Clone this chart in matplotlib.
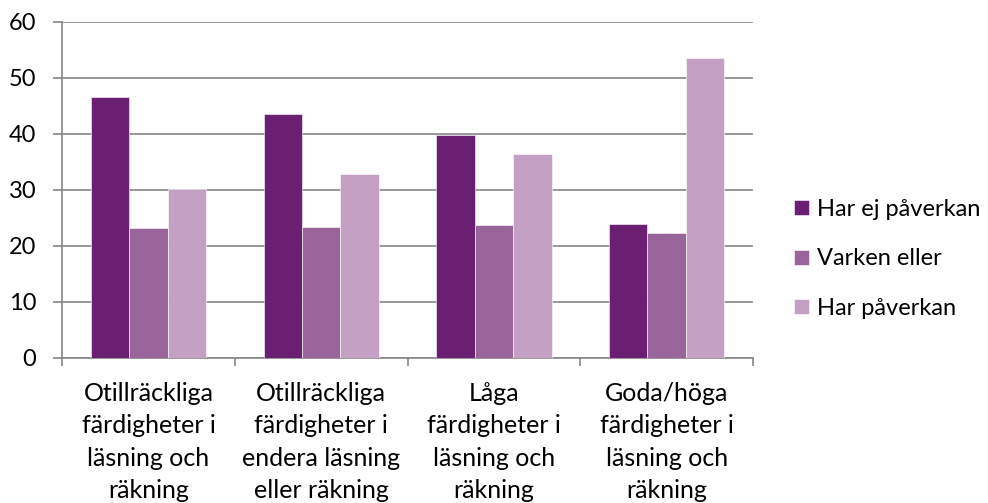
import matplotlib
import matplotlib.pyplot as plt
import numpy as np

matplotlib.use("Agg")
plt.rcParams["font.family"] = ["Lato", "DejaVu Sans"]

categories = [
    "Otillräckliga\nfärdigheter i\nläsning och\nräkning",
    "Otillräckliga\nfärdigheter i\nendera läsning\neller räkning",
    "Låga\nfärdigheter i\nläsning och\nräkning",
    "Goda/höga\nfärdigheter i\nläsning och\nräkning",
]
series_names = ["Har ej påverkan", "Varken eller", "Har påverkan"]
har_ej = [46.6, 43.6, 39.8, 23.9]
varken = [23.2, 23.4, 23.8, 22.4]
har = [30.2, 32.9, 36.4, 53.5]
colors = ["#6B1F73", "#996499", "#C4A0C4"]

grid_color = "#868686"

fig = plt.figure(figsize=(9.88, 5.03), dpi=100)
ax = fig.add_axes([0.0628, 0.2883, 0.6994, 0.668])

x = np.arange(len(categories))
width = 1 / 4.5
for i, (vals, name, c) in enumerate(zip([har_ej, varken, har], series_names, colors)):
    ax.bar(x + (i - 1) * width, vals, width, color=c, label=name,
           edgecolor="white", linewidth=0.4, zorder=3)

ax.set_xlim(-0.5, len(categories) - 0.5)
ax.set_ylim(0, 60)
ax.set_yticks(range(0, 61, 10))
ax.yaxis.grid(True, color=grid_color, linewidth=1.2, zorder=0)

# category boundaries carry the tick marks, labels sit at centres
ax.set_xticks(np.arange(-0.5, len(categories), 1.0))
ax.set_xticklabels([])
ax.set_xticks(x, minor=True)
ax.set_xticklabels(categories, minor=True, fontsize=18, linespacing=1.5)
ax.tick_params(axis="x", which="minor", length=0, pad=17)
ax.tick_params(axis="x", which="major", length=6, width=1.2, color=grid_color)
ax.tick_params(axis="y", length=6.5, width=1.2, color=grid_color, labelsize=17, pad=12)

for side in ["top", "right"]:
    ax.spines[side].set_visible(False)
for side in ["left", "bottom"]:
    ax.spines[side].set_color(grid_color)
    ax.spines[side].set_linewidth(1.2)

ax.legend(loc="center left", bbox_to_anchor=(1.029, 0.295), frameon=False,
          fontsize=17, handlelength=0.6, handleheight=0.6,
          handletextpad=0.34, labelspacing=1.2)

fig.savefig("out.png", dpi=100)
